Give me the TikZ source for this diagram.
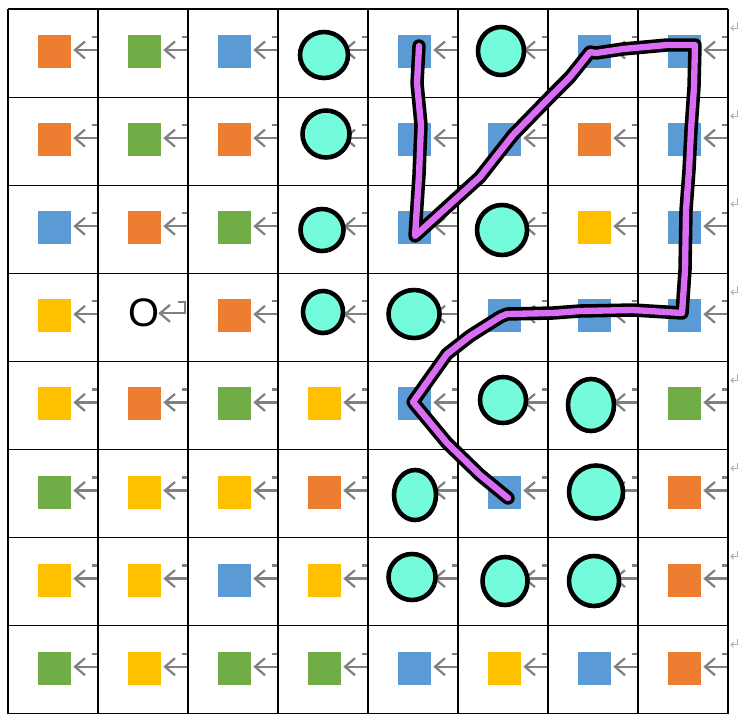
\documentclass[tikz,border=0pt]{standalone}
\usepackage{fontspec}
\setmainfont{Liberation Sans}
\usepackage{tikz}
\usetikzlibrary{arrows.meta, positioning, shapes.geometric, calc}
\definecolor{orng}{RGB}{237, 125, 49}
\definecolor{grn}{RGB}{112, 173, 71}
\definecolor{blu}{RGB}{91, 155, 213}
\definecolor{ylw}{RGB}{255, 192, 0}
\definecolor{blobaqua}{RGB}{116, 251, 219}
\definecolor{tracepurple}{RGB}{218, 108, 245}
\definecolor{hintgray}{RGB}{128, 128, 128}
\definecolor{eolgray}{RGB}{175, 175, 175}

\tikzset{
  tile/.style={fill=#1, draw=none, inner sep=0pt, minimum size=0.99cm},
  blob/.style={ellipse, draw=black, line width=3.9pt, fill=blobaqua, inner sep=0pt},
  hint/.style={draw=hintgray, line width=1.9pt},
  eolhint/.style={draw=eolgray, line width=0.8pt},
  cellline/.style={draw=black, line width=1pt},
  traceline/.style={line width=#1, line cap=round, line join=round}
}

\begin{document}
\begin{tikzpicture}[x=0.03cm, y=-0.03cm]
    \useasboundingbox (0,0) rectangle (739,726);
    \fill[white] (0,0) rectangle (739,726);

    % Tiles and return hints, row by row
    \foreach \r/\cols in {
        0/{orng,grn,blu,none,blu,none,blu,blu},
        1/{orng,grn,orng,none,blu,blu,orng,blu},
        2/{blu,orng,grn,none,blu,none,ylw,blu},
        3/{ylw,none,orng,none,none,blu,blu,blu},
        4/{ylw,orng,grn,ylw,blu,none,none,grn},
        5/{grn,ylw,ylw,orng,none,blu,none,orng},
        6/{ylw,ylw,blu,ylw,none,none,none,orng},
        7/{grn,ylw,grn,grn,blu,ylw,blu,orng}} {
      \foreach \t [count=\c from 0] in \cols {
        \pgfmathsetmacro\L{8+90*\c}
        \pgfmathsetmacro\T{9+88.1*\r}
        \node[tile=\t] (tile-\r-\c) at (\L+46.5, \T+42.5) {};
        \ifnum\numexpr\r*10+\c\relax=31 \else
          \draw[hint] (\L+77, \T+32.5) -- (\L+67, \T+41) -- (\L+77, \T+49.5);
          \draw[hint] (\L+67, \T+41) -- (\L+90, \T+41);
          \draw[hint] (\L+84, \T+28) -- (\L+90, \T+28);
        \fi
      }
      % end of row marks
      \pgfmathsetmacro\T{9+88.1*\r}
      \draw[eolhint] (737.5, \T+13) -- (737.5, \T+19) -- (731, \T+19);
      \draw[eolhint] (733.5, \T+16.5) -- (731, \T+19) -- (733.5, \T+21.5);
    }

    % Origin cell
    \node[font=\fontsize{34}{40}\selectfont, inner sep=0pt] (origin) at (144, 312.5) {O};
    \draw[hint] (178, 302.3) -- (185, 302.3) -- (185, 313.3) -- (160, 313.3);
    \draw[hint] (170, 304.8) -- (160, 313.3) -- (170, 321.8);

    % Grid
    \foreach \i in {0,...,8} {
      \draw[cellline] (8+90*\i, 9) -- (8+90*\i, 713.8);
      \draw[cellline] (8, 9+88.1*\i) -- (728, 9+88.1*\i);
    }

    % Obstacles
    \foreach \r/\c/\x/\y/\w/\h in {
        0/3/324/55/48/46, 0/5/501/51/46/48,
        1/3/326/134/47/47,
        2/3/322/230/43/42, 2/5/502/230/50/50,
        3/3/323/312/40/42, 3/4/414/314/51/48,
        4/5/503/400/46/46, 4/6/591/405/46/52,
        5/4/415/495/42/50, 5/6/596/492/54/53,
        6/4/412/577/47/46, 6/5/505/581/45/48, 6/6/594/581/50/50} {
      \node[blob, minimum width={\w*0.03cm}, minimum height={\h*0.03cm}] (blob-\r-\c) at (\x, \y) {};
    }

    % Traced route
    \foreach \n/\px/\py in {
        1/419/46, 2/417/83, 3/421/125, 4/419/175, 5/415/236,
        6/447/207, 7/480/177, 8/513/135, 9/550/97, 10/570/77,
        11/590/52, 12/596/53, 13/623/49, 14/667/45, 15/695/45,
        16/694/87, 17/691/130, 18/689/170, 19/686/210, 20/685/270,
        21/682/313, 22/633/310, 23/580/311, 24/553/313, 25/507/314,
        26/500/317, 27/470/336, 28/447/354, 29/413/402, 30/447/443,
        31/480/475, 32/508/498} {
      \coordinate (route-\n) at (\px, \py);
    }
    \draw[traceline=11.5pt, black] (route-1) \foreach \n in {2,...,32} { -- (route-\n) };
    \draw[traceline=5.4pt, tracepurple] (route-1) \foreach \n in {2,...,32} { -- (route-\n) };
  \end{tikzpicture}
\end{document}
